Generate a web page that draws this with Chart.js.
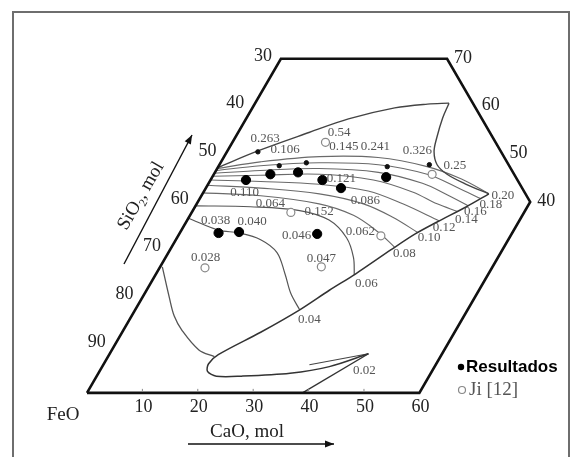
<!DOCTYPE html>
<html><head><meta charset="utf-8">
<script src="https://cdn.jsdelivr.net/npm/chart.js@4.4.1/dist/chart.umd.min.js"></script>
<style>html,body{margin:0;padding:0;background:#fff;}#wrap{width:576px;height:457px;position:relative;}</style>
</head><body><div id="wrap"><canvas id="c" width="576" height="457"></canvas></div>
<script>
// Compositions in mol %: [CaO, SiO2]  (FeO = 100 - CaO - SiO2)
const frameLine = [[0,0],[0,70],[30,70],[60,40],[60,0],[0,0]];
const liquidusTop = [[0,47.2],[5.5,50.7],[12.9,54.6],[18.5,57.4],[25.7,59.7],[31.2,60.5],[35.0,60.7]];
const liquidusRight = [[35.0,60.7],[35.4,57.6],[36.4,53.5],[37.4,50.5],[39.3,47.8],[42.1,45.8],[46.6,43.7],[51.7,41.7]];
const liquidusLower = [[51.7,41.7],[49.0,39.0],[45.3,35.8],[42.6,33.3],[39.9,30.0],[36.0,24.9],[33.0,21.5],[29.7,17.4],[25.0,12.7],[19.7,8.0],[18.9,6.1],[19.5,4.5],[21.6,3.5],[26.1,3.5],[34.6,4.1],[41.0,5.5],[46.7,8.2]];
const tipBranch = [[46.7,8.2],[38.9,0]];
const tipWedge = [[37.2,5.9],[46.7,8.2]];
const leftBoundary = [[0.4,26.4],[5.0,19.8],[7.7,16.1],[10.6,13.1],[15.7,9.0],[19.2,7.6]];

const iso020 = [[0,47.0],[7.1,48.4],[17.2,49.5],[27.9,49.3],[37.7,47.4],[45.2,44.8],[51.7,41.7]];
const iso018 = [[0,46.6],[7.5,47.6],[17.8,48.2],[28.7,47.8],[38.5,45.8],[45.2,43.1],[50.7,40.7]];
const iso016 = [[0,46.0],[8.0,46.6],[18.4,47.0],[29.5,46.2],[38.6,43.9],[44.7,41.3],[49.2,39.2]];
const iso014 = [[0,45.4],[8.5,45.6],[19.1,45.8],[29.4,44.6],[37.7,42.1],[43.4,39.6],[47.9,38.0]];
const iso012 = [[0,44.6],[9.2,44.3],[20.1,43.7],[29.6,42.3],[37.2,39.6],[45.6,36.0]];
const iso010 = [[0,43.5],[9.9,42.9],[21.1,41.7],[30.1,39.6],[36.8,36.8],[42.9,33.6]];
const iso008 = [[0,41.9],[10.7,41.3],[22.1,39.6],[29.5,37.2],[35.7,33.7],[40.3,30.5]];
const iso006 = [[0,39.2],[10.0,39.0],[19.3,38.2],[25.6,36.2],[30.6,32.5],[33.9,28.4],[35.9,24.7]];
const iso004 = [[0,36.6],[6.7,34.1],[10.7,33.5],[15.3,32.1],[19.6,29.4],[23.3,24.9],[26.4,20.8],[29.7,17.4]];

const resultados = [[6.4,44.6],[10.2,45.8],[15.0,46.2],[20.2,44.6],[24.4,42.9],[31.4,45.2],[7.0,33.5],[10.6,33.7],[24.9,33.3]];
const markers = [[5.6,50.5],[10.9,47.6],[15.5,48.2],[30.5,47.4],[37.9,47.8]];
const jiData = [[16.8,52.5],[39.4,45.8],[17.9,37.8],[36.6,32.9],[8.2,26.2],[29.1,26.4]];

const valueLabels = ["0.263","0.54","0.106","0.145","0.241","0.326","0.25","0.121","0.110","0.086","0.064","0.152","0.038","0.040","0.046","0.062","0.028","0.047"];
const valueLabelAt = [[5.5,53.3],[18.2,54.6],[10.3,50.9],[20.6,51.5],[26.2,51.7],[34.3,50.7],[42.6,47.6],[23.5,44.8],[7.5,41.9],[30.1,40.3],[13.3,39.6],[22.9,38.0],[5.1,36.2],[11.9,35.8],[21.4,32.9],[32.5,33.7],[7.2,28.4],[28.2,28.2]];
const isoLabels = ["0.04","0.06","0.08","0.10","0.12","0.14","0.16","0.18","0.20","0.02"];
const isoLabelAt = [[32.5,15.3],[39.0,22.9],[42.7,29.2],[45.5,32.5],[47.1,34.7],[50.3,36.4],[51.1,38.0],[53.2,39.4],[54.4,41.3],[47.7,4.7]];

const caoTicks = [10,20,30,40,50,60];
const feoTicks = [90,80,70,60,50,40,30];
const sio2Ticks = [70,60,50,40];

const SQ3 = Math.sqrt(3);
const toXY = a => a.map(p => ({x: p[0] + p[1]/2, y: p[1]*SQ3/2}));

function lineDs(arr, color, width, tension){
  return {data: toXY(arr), showLine: true, borderColor: color, borderWidth: width, tension: tension, pointRadius: 0, fill: false};
}

const isoColor = '#6a6a6a';
const datasets = [
  {label:'Resultados', data: toXY(resultados), pointRadius: 4.6, pointBackgroundColor:'#000', pointBorderColor:'#000', showLine:false},
  {label:'markers', data: toXY(markers), pointRadius: 2.2, pointBackgroundColor:'#111', pointBorderColor:'#111', showLine:false},
  {label:'Ji [12]', data: toXY(jiData), pointRadius: 4, pointBackgroundColor:'#fff', pointBorderColor:'#888', pointBorderWidth:1.2, showLine:false},
  lineDs(frameLine, '#111', 2.6, 0),
  lineDs(liquidusTop, '#444', 1.4, 0.35),
  lineDs(liquidusRight, '#444', 1.4, 0.35),
  lineDs(liquidusLower, '#333', 1.5, 0.3),
  lineDs(tipBranch, '#333', 1.4, 0),
  lineDs(tipWedge, '#444', 1.1, 0),
  lineDs(leftBoundary, '#555', 1.3, 0.35),
  lineDs(iso020, isoColor, 1.1, 0.35),
  lineDs(iso018, isoColor, 1.1, 0.35),
  lineDs(iso016, isoColor, 1.1, 0.35),
  lineDs(iso014, isoColor, 1.1, 0.35),
  lineDs(iso012, isoColor, 1.1, 0.35),
  lineDs(iso010, isoColor, 1.1, 0.35),
  lineDs(iso008, isoColor, 1.1, 0.35),
  lineDs(iso006, '#555', 1.2, 0.35),
  lineDs(iso004, '#555', 1.2, 0.35)
];

function arrow(ctx, x1, y1, x2, y2){
  ctx.beginPath(); ctx.moveTo(x1,y1); ctx.lineTo(x2,y2); ctx.stroke();
  const a = Math.atan2(y2-y1, x2-x1), L = 9, W = 3.5;
  ctx.beginPath();
  ctx.moveTo(x2,y2);
  ctx.lineTo(x2 - L*Math.cos(a) + W*Math.sin(a), y2 - L*Math.sin(a) - W*Math.cos(a));
  ctx.lineTo(x2 - L*Math.cos(a) - W*Math.sin(a), y2 - L*Math.sin(a) + W*Math.cos(a));
  ctx.closePath(); ctx.fill();
}

const decor = {
  id: 'decor',
  beforeDraw(chart){
    const ctx = chart.ctx;
    ctx.save();
    ctx.fillStyle = '#fff'; ctx.fillRect(0,0,chart.width,chart.height);
    ctx.strokeStyle = '#6e6e6e'; ctx.lineWidth = 2;
    ctx.strokeRect(13, 12, 556, 460);
    ctx.restore();
  },
  afterDraw(chart){
    const ctx = chart.ctx, sx = chart.scales.x, sy = chart.scales.y;
    const P = (c, s) => ({x: sx.getPixelForValue(c + s/2), y: sy.getPixelForValue(s*SQ3/2)});
    ctx.save();
    // small ticks
    ctx.strokeStyle = '#888'; ctx.lineWidth = 1;
    caoTicks.slice(0,5).forEach(t => { const p = P(t,0); ctx.beginPath(); ctx.moveTo(p.x, p.y-1); ctx.lineTo(p.x, p.y-4); ctx.stroke(); });
    // tick labels
    ctx.fillStyle = '#222'; ctx.font = '18px "Liberation Serif"'; ctx.textAlign = 'center'; ctx.textBaseline = 'middle';
    caoTicks.forEach(t => { const p = P(t,0); ctx.fillText(String(t), p.x + 1, p.y + 14); });
    feoTicks.forEach(t => { const p = P(0,100-t); ctx.fillText(String(t), p.x - 18, p.y - 3); });
    sio2Ticks.forEach(t => { const p = P(100-t,t); ctx.fillText(String(t), p.x + 16, p.y - 1); });
    // axis names
    ctx.font = '19px "Liberation Serif"';
    ctx.fillText('FeO', 63, 415);
    ctx.fillText('CaO, mol', 247, 432);
    ctx.save();
    ctx.translate(141, 196); ctx.rotate(-Math.PI/3);
    ctx.fillText('SiO\u2082, mol', 0, 0);
    ctx.restore();
    ctx.strokeStyle = '#111'; ctx.fillStyle = '#111'; ctx.lineWidth = 1.4;
    arrow(ctx, 188, 444, 334, 444);
    arrow(ctx, 124, 264, 192, 135);
    // value labels
    ctx.fillStyle = '#555'; ctx.font = '13px "Liberation Serif"';
    valueLabels.forEach((t,i) => { const p = P(valueLabelAt[i][0], valueLabelAt[i][1]); ctx.fillText(t, p.x, p.y); });
    isoLabels.forEach((t,i) => { const p = P(isoLabelAt[i][0], isoLabelAt[i][1]); ctx.fillText(t, p.x, p.y); });
    // legend
    const ds = chart.data.datasets;
    ctx.textAlign = 'left';
    ctx.fillStyle = '#000';
    ctx.beginPath(); ctx.arc(461, 367, 3.2, 0, Math.PI*2); ctx.fill();
    ctx.font = 'bold 17px "Liberation Sans"';
    ctx.fillText(ds[0].label, 466, 367);
    ctx.strokeStyle = '#888'; ctx.lineWidth = 1.2;
    ctx.beginPath(); ctx.arc(462, 390, 3.5, 0, Math.PI*2); ctx.stroke();
    ctx.fillStyle = '#555'; ctx.font = '19px "Liberation Serif"';
    ctx.fillText(ds[2].label, 469, 390);
    ctx.restore();
  }
};

new Chart(document.getElementById('c'), {
  type: 'scatter',
  data: {datasets},
  options: {
    responsive: false, animation: false, devicePixelRatio: 1,
    layout: {padding: 0},
    plugins: {legend: {display: false}, tooltip: {enabled: false}},
    scales: {
      x: {type: 'linear', min: -14.69, max: 87.26, display: false},
      y: {type: 'linear', min: -10.62, max: 70.27, display: false}
    }
  },
  plugins: [decor]
});
</script></body></html>
